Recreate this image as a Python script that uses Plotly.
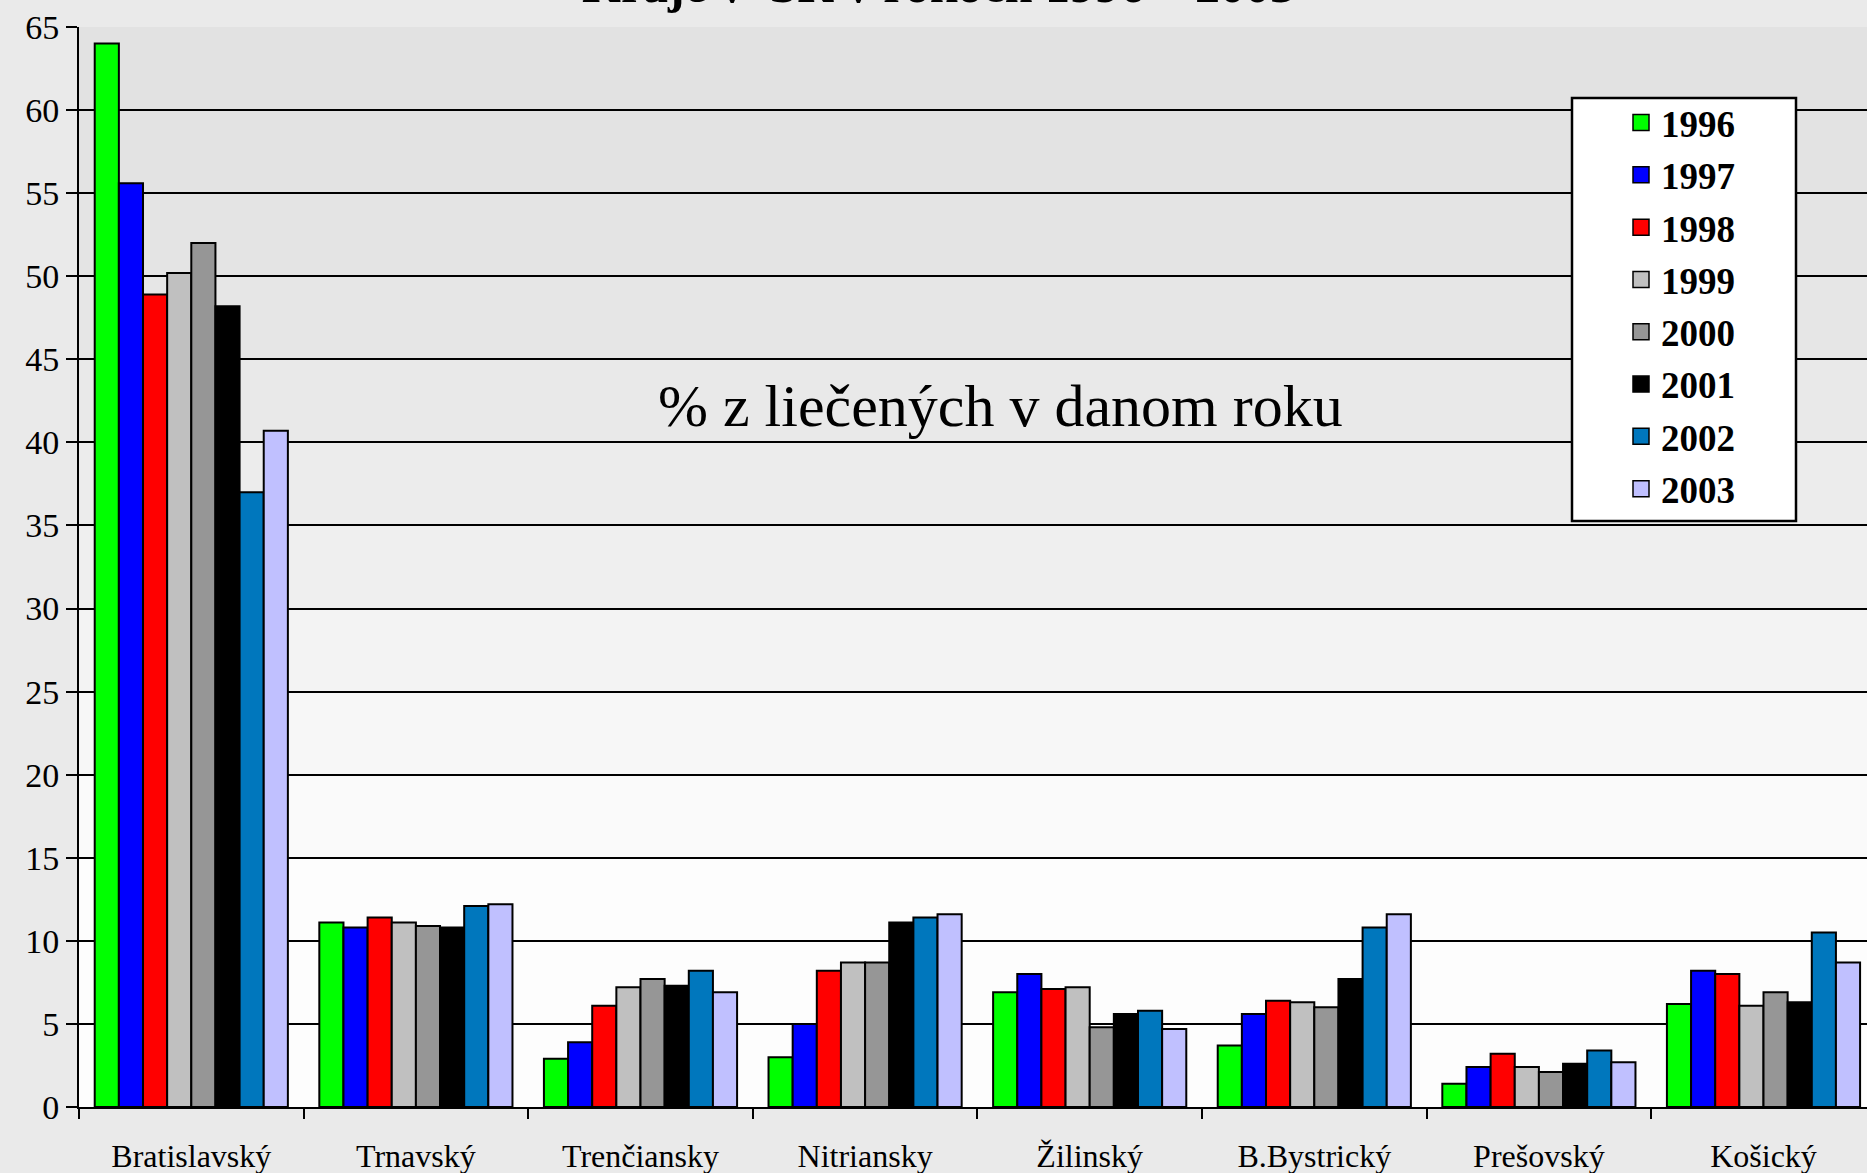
import plotly.graph_objects as go

regions = ["Bratislavský", "Trnavský", "Trenčiansky", "Nitriansky", "Žilinský",
           "B.Bystrický", "Prešovský", "Košický"]
years = ["1996", "1997", "1998", "1999", "2000", "2001", "2002", "2003"]

v1996 = [64.0, 11.1, 2.9, 3.0, 6.9, 3.7, 1.4, 6.2]
v1997 = [55.6, 10.8, 3.9, 5.0, 8.0, 5.6, 2.4, 8.2]
v1998 = [48.9, 11.4, 6.1, 8.2, 7.1, 6.4, 3.2, 8.0]
v1999 = [50.2, 11.1, 7.2, 8.7, 7.2, 6.3, 2.4, 6.1]
v2000 = [52.0, 10.9, 7.7, 8.7, 4.8, 6.0, 2.1, 6.9]
v2001 = [48.2, 10.8, 7.3, 11.1, 5.6, 7.7, 2.6, 6.3]
v2002 = [37.0, 12.1, 8.2, 11.4, 5.8, 10.8, 3.4, 10.5]
v2003 = [40.7, 12.2, 6.9, 11.6, 4.7, 11.6, 2.7, 8.7]

series = [v1996, v1997, v1998, v1999, v2000, v2001, v2002, v2003]
colors = ["#00FF00", "#0000FF", "#FF0000", "#C0C0C0", "#969696", "#000000",
          "#0077BD", "#C0C0FF"]

yticks = list(range(0, 70, 5))

W, H = 1867, 1173
ML, MT, MB, MR = 79, 27, 66, 0
PW = W - ML - MR
PH = H - MT - MB

fig = go.Figure()

for yr, vals, col in zip(years, series, colors):
    fig.add_trace(go.Bar(
        x=regions, y=vals, name=yr, marker_color=col,
        marker_line=dict(color="black", width=2), showlegend=False,
    ))

for yr, col in zip(years, colors):
    fig.add_trace(go.Scatter(
        x=[None], y=[None], mode="markers", name=yr, legendgroup=yr,
        marker=dict(symbol="square", size=16, color=col,
                    line=dict(color="black", width=1.5)),
    ))

# gradient-like background of plot area
shades = [226, 227, 228, 230, 233, 236, 239, 243, 247, 250, 253, 253, 253]
shapes = []
for i, s in enumerate(shades):
    top = 65 - 5 * i
    bot = top - 5
    shapes.append(dict(type="rect", xref="paper", yref="y", x0=0, x1=1,
                       y0=bot, y1=top, line=dict(width=0),
                       fillcolor=f"rgb({s},{s},{s})", layer="below"))


def px2paper_x(px):
    return (px - ML) / PW


def px2paper_y(py):
    return 1 - (py - MT) / PH


# legend box
shapes.append(dict(type="rect", xref="paper", yref="paper",
                   x0=px2paper_x(1572), x1=px2paper_x(1796),
                   y0=px2paper_y(521), y1=px2paper_y(98),
                   line=dict(color="black", width=2.5), fillcolor="white",
                   layer="above"))

fig.update_layout(
    width=W, height=H,
    margin=dict(l=ML, r=MR, t=MT, b=MB, pad=0),
    paper_bgcolor="#EAEAEA",
    plot_bgcolor="rgba(0,0,0,0)",
    barmode="group", bargap=0.14, bargroupgap=0,
    font=dict(family="Liberation Serif", size=24, color="black"),
    shapes=shapes,
    showlegend=True,
    legend=dict(x=px2paper_x(1621), y=px2paper_y(92), xanchor="left",
                yanchor="top", bgcolor="rgba(0,0,0,0)", borderwidth=0,
                font=dict(family="Liberation Serif", size=37, color="black",
                          weight="bold"),
                traceorder="grouped", tracegroupgap=1.2),
    annotations=[
        dict(text="% z liečených v danom roku", xref="paper", yref="y",
             x=px2paper_x(1000), y=42.2, showarrow=False,
             font=dict(family="Liberation Serif", size=60, color="black")),
        dict(text="<b>Kraje v  SR v rokoch 1996 – 2003</b>", xref="paper",
             yref="paper", x=px2paper_x(938), y=px2paper_y(15),
             yanchor="bottom", showarrow=False,
             font=dict(family="Liberation Serif", size=50, color="black")),
    ],
)

fig.update_xaxes(
    range=[-0.5, -0.5 + PW / 224.6],
    showline=True, linecolor="black", linewidth=2,
    ticks="outside", tickson="boundaries", ticklen=10, tickwidth=2,
    tickcolor="black", showgrid=False, ticklabelstandoff=20,
    tickfont=dict(family="Liberation Serif", size=32),
)
fig.update_yaxes(
    range=[0, 65], tickvals=yticks,
    showline=True, linecolor="black", linewidth=2,
    ticks="outside", ticklen=11, tickwidth=2, tickcolor="black",
    showgrid=True, gridcolor="black", gridwidth=2, zeroline=False,
    tickfont=dict(family="Liberation Serif", size=34),
)

fig.write_html("out.html",
               config={"displayModeBar": False},
               post_script="document.body.style.margin='0';"
                           "document.body.style.overflow='hidden';")
